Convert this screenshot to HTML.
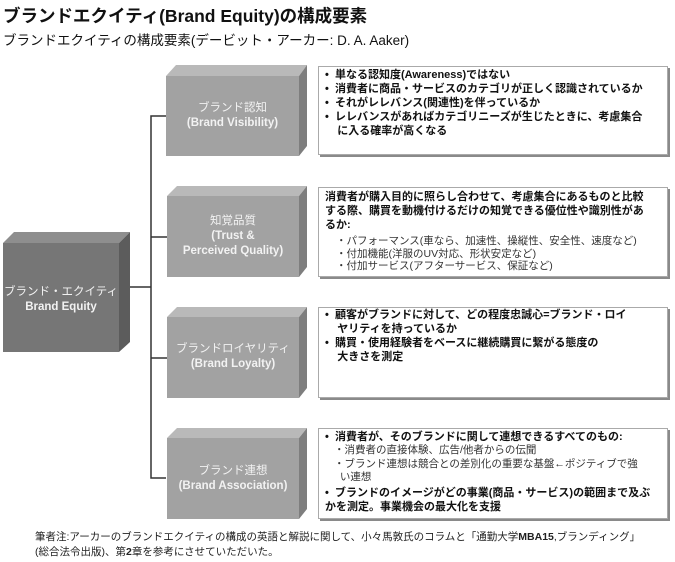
<!DOCTYPE html>
<html><head><meta charset="utf-8">
<style>
body{margin:0;width:675px;height:562px;background:#fff;position:relative;overflow:hidden;font-family:"Liberation Sans","Noto Sans CJK JP",sans-serif;color:#111}
.a{position:absolute;white-space:nowrap}
.lbl{position:absolute;text-align:center;color:#f2f2f2;font-size:11.5px;line-height:15px}
.lbl b{font-weight:bold}
.tb{position:absolute;left:318px;width:350px;background:#fff;border:1px solid #aaa;box-shadow:2px 2px 0 #8a8a8a;box-sizing:border-box}
.t{position:absolute;font-size:11px;line-height:14px;white-space:nowrap;color:#111;font-weight:bold}
.s{font-weight:normal;color:#333;font-size:10.5px;line-height:12.5px}
</style></head><body>
<div class="a" style="left:3px;top:3px;font-size:17.5px;font-weight:bold;">ブランドエクイティ(Brand Equity)の構成要素</div>
<div class="a" style="left:3px;top:29px;font-size:13.5px;">ブランドエクイティの構成要素(デービット・アーカー: D. A. Aaker)</div>

<svg width="675" height="562" style="position:absolute;left:0;top:0">
<g stroke="#333" stroke-width="1.5" fill="none">
<polyline points="166,116 151,116 151,478 166,478"/>
<line x1="151" y1="237" x2="167" y2="237"/>
<line x1="151" y1="358" x2="167" y2="358"/>
<line x1="130" y1="287" x2="151" y2="287"/>
</g>
<polygon points="3,243 14,232 130,232 119,243" fill="#8e8e8e"/>
<polygon points="119,243 130,232 130,342 119,352" fill="#5c5c5c"/>
<rect x="3" y="243" width="116" height="109" fill="#767676"/>
<g>
<polygon points="166,76 176,65 307,65 299,76" fill="#b9b9b9"/>
<polygon points="299,76 307,65 307,146 299,156" fill="#7e7e7e"/>
<rect x="166" y="76" width="133" height="80" fill="#a2a2a2"/>
</g>
<g>
<polygon points="167,196 177,186 307,186 299,196" fill="#b9b9b9"/>
<polygon points="299,196 307,186 307,267 299,277" fill="#7e7e7e"/>
<rect x="167" y="196" width="132" height="81" fill="#a2a2a2"/>
</g>
<g>
<polygon points="167,317 177,307 307,307 299,317" fill="#b9b9b9"/>
<polygon points="299,317 307,307 307,388 299,398" fill="#7e7e7e"/>
<rect x="167" y="317" width="132" height="81" fill="#a2a2a2"/>
</g>
<g>
<polygon points="167,438 177,428 307,428 299,438" fill="#b9b9b9"/>
<polygon points="299,438 307,428 307,509 299,519" fill="#7e7e7e"/>
<rect x="167" y="438" width="132" height="81" fill="#a2a2a2"/>
</g>
</svg>

<div class="lbl" style="left:3px;top:285px;width:116px">ブランド・エクイティ<br><b>Brand Equity</b></div>
<div class="lbl" style="left:166px;top:101px;width:133px">ブランド認知<br><b>(Brand Visibility)</b></div>
<div class="lbl" style="left:167px;top:214px;width:132px">知覚品質<br><b>(Trust &amp;</b><br><b>Perceived Quality)</b></div>
<div class="lbl" style="left:167px;top:342px;width:132px">ブランドロイヤリティ<br><b>(Brand Loyalty)</b></div>
<div class="lbl" style="left:167px;top:464px;width:132px">ブランド連想<br><b>(Brand Association)</b></div>

<div class="tb" style="top:66px;height:89px"></div>
<div class="tb" style="top:187px;height:90px"></div>
<div class="tb" style="top:307px;height:91px"></div>
<div class="tb" style="top:428px;height:91px"></div>

<div class="t" style="left:325px;top:68px">•&nbsp; 単なる認知度(Awareness)ではない<br>•&nbsp; 消費者に商品・サービスのカテゴリが正しく認識されているか<br>•&nbsp; それがレレバンス(関連性)を伴っているか<br>•&nbsp; レレバンスがあればカテゴリニーズが生じたときに、考慮集合<br>&nbsp;&nbsp;&nbsp; に入る確率が高くなる</div>

<div class="t" style="left:325px;top:190px">消費者が購入目的に照らし合わせて、考慮集合にあるものと比較<br>する際、購買を動機付けるだけの知覚できる優位性や識別性があ<br>るか:</div>
<div class="t s" style="left:336px;top:235px">・パフォーマンス(車なら、加速性、操縦性、安全性、速度など)<br>・付加機能(洋服のUV対応、形状安定など)<br>・付加サービス(アフターサービス、保証など)</div>

<div class="t" style="left:325px;top:308px">•&nbsp; 顧客がブランドに対して、どの程度忠誠心=ブランド・ロイ<br>&nbsp;&nbsp;&nbsp; ヤリティを持っているか<br>•&nbsp; 購買・使用経験者をベースに継続購買に繋がる態度の<br>&nbsp;&nbsp;&nbsp; 大きさを測定</div>

<div class="t" style="left:325px;top:430px">•&nbsp; 消費者が、そのブランドに関して連想できるすべてのもの:</div>
<div class="t s" style="left:334px;top:444px;line-height:13.5px">・消費者の直接体験、広告/他者からの伝聞<br>・ブランド連想は競合との差別化の重要な基盤<b>←</b>ポジティブで強<br>&nbsp;&nbsp;い連想</div>
<div class="t" style="left:325px;top:486px">•&nbsp; ブランドのイメージがどの事業(商品・サービス)の範囲まで及ぶ<br>かを測定。事業機会の最大化を支援</div>

<div class="a" style="left:35px;top:530px;font-size:10.5px;line-height:15px;color:#222">筆者注:アーカーのブランドエクイティの構成の英語と解説に関して、小々馬敦氏のコラムと「通勤大学<b>MBA15</b>,ブランディング」<br>(総合法令出版)、第<b>2</b>章を参考にさせていただいた。</div>
</body></html>
